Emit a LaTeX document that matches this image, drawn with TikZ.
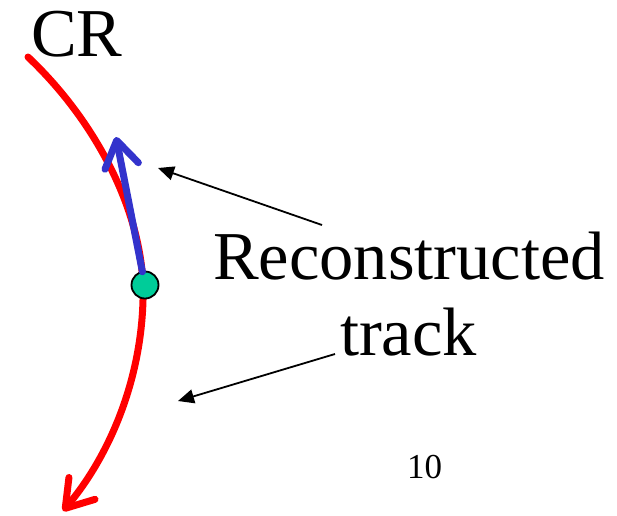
\documentclass[tikz,border=0pt]{standalone}
\usepackage{fontspec}
\setmainfont{Liberation Serif}
\definecolor{trackred}{RGB}{255,0,0}
\definecolor{trackblue}{RGB}{51,51,204}
\definecolor{hitgreen}{RGB}{0,204,153}
\usetikzlibrary{arrows.meta}
\usetikzlibrary{positioning}
\tikzstyle{base}=[x=1pt, y=-1pt, inner sep=0pt, outer sep=0pt]
\tikzstyle{barb}=[line width=7pt, line cap=round, -{Straight Barb[round, length=26pt, width=34pt]}]
\tikzstyle{pointer}=[line width=1.8pt, black, -{Triangle[length=16pt, width=14pt]}]
\tikzstyle{bigtext}=[anchor=base west, font=\fontsize{68.5}{80}\selectfont]

\begin{document}
\begin{tikzpicture}[base]
    \path [use as bounding box] (0,0) rectangle (617,515);
        \draw [barb, trackred] (28,57) .. controls (100,125) and (146,220) .. (143,300)
              .. controls (141,380) and (110,455) .. (63,511);
        \node [circle, draw=black, line width=1.8pt, fill=hitgreen, minimum size=27pt] (hit) at (145,285) {};
        \coordinate (fittip) at (116,137);
        \draw [barb, trackblue] (hit) -- (fittip);
        \node [bigtext] (cr) at (31,56) {CR};
        \node [bigtext] (reco) at (213,279) {Reconstructed};
        \node [bigtext] (trk) at (340,355) {track};
        \node [anchor=base west, font=\fontsize{35}{42}\selectfont] (page) at (407,478) {10};
        \coordinate (recostart) at (322,225);
        \coordinate (recoend) at (158,168);
        \coordinate (trkstart) at (335,354);
        \coordinate (trkend) at (178,401);
        \draw [pointer] (recostart) -- (recoend);
        \draw [pointer] (trkstart) -- (trkend);
    \end{tikzpicture}
\end{document}
